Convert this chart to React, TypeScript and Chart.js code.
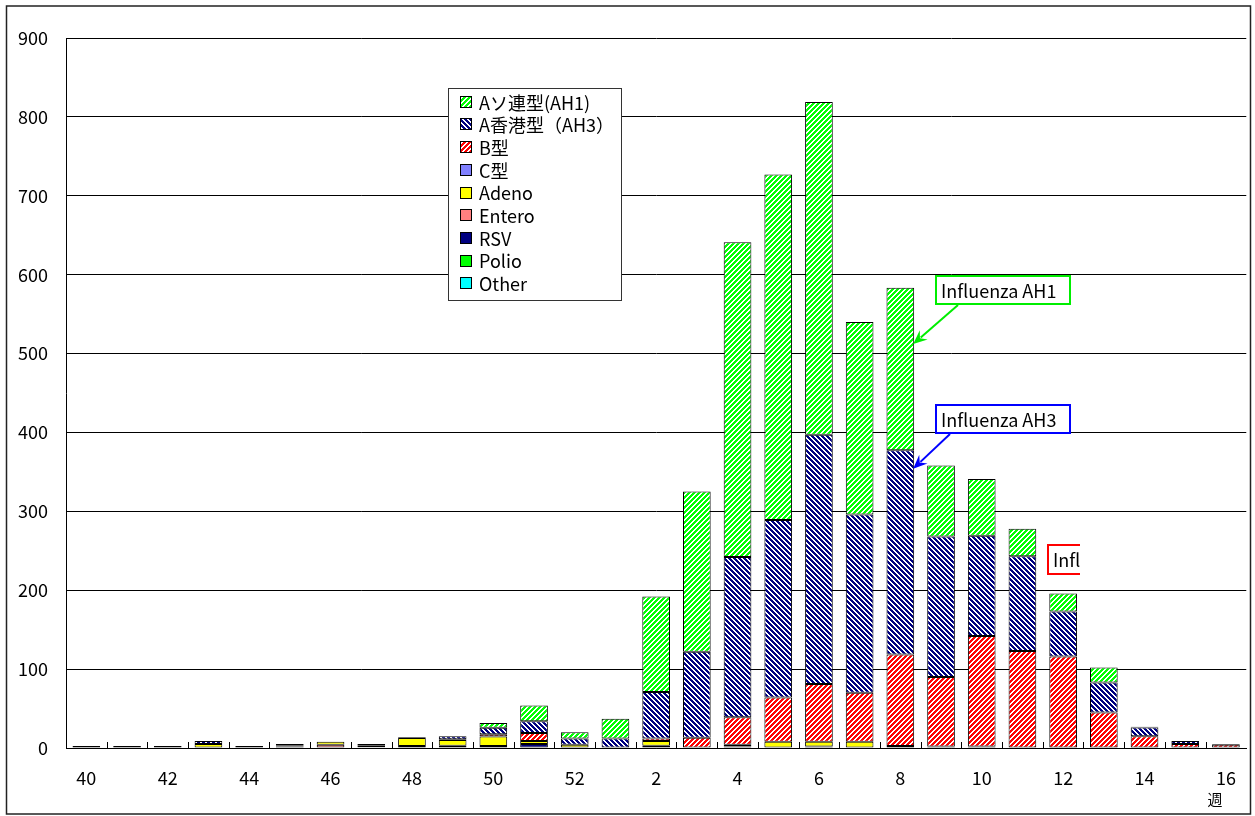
import React, { useEffect, useRef } from 'react';
import { Chart, registerables } from 'chart.js';
Chart.register(...registerables);

const weeks = ['40','41','42','43','44','45','46','47','48','49','50','51','52','1','2','3','4','5','6','7','8','9','10','11','12','13','14','15','16'];

const ah1 =    [0,0,0,0,0,2,0,0,0,0,6,20,8,25,121,203,399,438,422,244,206,90,72,35,23,19,1,0,0];
const ah3 =    [0,0,0,4,0,0,0,0,1,4,8,15,8,12,59,109,203,225,316,226,259,178,127,120,57,38,11,4,1];
const typeB =  [0,0,0,0,0,0,0,2,0,1,3,10,0,0,3,13,35,56,73,62,116,88,140,123,116,45,15,5,4];
const typeC =  [0,0,0,0,0,0,0,0,0,0,0,0,0,0,0,0,0,0,0,0,0,0,0,0,0,0,0,0,0];
const adeno =  [0,0,0,5,0,1,4,2,10,7,12,4,4,0,6,0,2,8,6,8,0,2,0,0,0,0,0,0,0];
const entero = [0,0,0,0,0,2,4,1,0,3,0,0,0,0,0,0,2,0,2,0,0,0,2,0,0,0,0,0,0];
const rsv =    [1,1,1,0,1,0,0,0,1,0,2,5,0,0,3,0,0,0,0,0,2,0,0,0,0,0,0,0,0];
const polio =  [0,0,0,0,0,0,0,0,0,0,0,0,0,0,0,0,0,0,0,0,0,0,0,0,0,0,0,0,0];
const other =  [0,0,0,0,0,0,0,0,0,0,0,0,0,0,0,0,0,0,0,0,0,0,0,0,0,0,0,0,0];

const yTicks = [0,100,200,300,400,500,600,700,800,900];

const FONT = '"Noto Sans CJK JP", "Noto Sans", sans-serif';

function makePattern(color: string, dir: string) {
  const P = 5;
  const c = document.createElement('canvas');
  c.width = P; c.height = P;
  const ctx = c.getContext('2d')!;
  ctx.fillStyle = '#ffffff';
  ctx.fillRect(0, 0, P, P);
  ctx.fillStyle = color;
  for (let y = 0; y < P; y++) {
    for (let x = 0; x < P; x++) {
      const k = dir === '/' ? (x + y) % P : (((x - y) % P) + P) % P;
      if (k < 3) ctx.fillRect(x, y, 1, 1);
    }
  }
  return ctx.createPattern(c, 'repeat')!;
}

export default function App() {
  const ref = useRef<HTMLCanvasElement>(null);
  useEffect(() => {
    document.body.style.margin = '0';
    const pGreen = makePattern('#00ff00', '/');
    const pBlue = makePattern('#000080', '\\');
    const pRed = makePattern('#ff0000', '/');

    const series = [
      { label: 'Other', data: other, fill: '#00ffff', min: 0 },
      { label: 'Polio', data: polio, fill: '#00ff00', min: 0 },
      { label: 'RSV', data: rsv, fill: '#000080', min: 2 },
      { label: 'Entero', data: entero, fill: '#ff8080', min: 0 },
      { label: 'Adeno', data: adeno, fill: '#ffff00', min: 0 },
      { label: 'C型', data: typeC, fill: '#8080ff', min: 0 },
      { label: 'B型', data: typeB, fill: pRed, min: 0 },
      { label: 'A香港型（AH3）', data: ah3, fill: pBlue, min: 0 },
      { label: 'Aソ連型(AH1)', data: ah1, fill: pGreen, min: 0 },
    ];

    const decor = {
      id: 'decor',
      beforeDraw(chart: any) {
        const ctx = chart.ctx;
        ctx.save();
        ctx.fillStyle = '#ffffff';
        ctx.fillRect(0, 0, chart.width, chart.height);
        ctx.restore();
      },
      afterDraw(chart: any) {
        const ctx = chart.ctx;
        const xs = chart.scales.x;
        const ys = chart.scales.y;
        const area = chart.chartArea;
        ctx.save();
        const n = weeks.length;
        const cw = (area.right - area.left) / n;
        ctx.strokeStyle = '#000';
        ctx.lineWidth = 1;
        for (let i = 1; i < n; i++) {
          const x = Math.round(area.left + i * cw) + 0.5;
          ctx.beginPath();
          ctx.moveTo(x, area.bottom);
          ctx.lineTo(x, area.bottom - 6);
          ctx.stroke();
        }
        ctx.strokeStyle = '#222';
        ctx.lineWidth = 1.5;
        ctx.strokeRect(6.5, 6, 1244, 808);

        ctx.fillStyle = '#000';
        ctx.font = '15px ' + FONT;
        ctx.textAlign = 'center';
        ctx.textBaseline = 'middle';
        ctx.fillText('週', xs.getPixelForValue(n - 1) - 11, 799);

        const lx = 448.5, ly = 88.5, lw = 173, lh = 212;
        ctx.fillStyle = '#fff';
        ctx.fillRect(lx, ly, lw, lh);
        ctx.strokeStyle = '#333';
        ctx.lineWidth = 1;
        ctx.strokeRect(lx, ly, lw, lh);
        const items = series.slice().reverse();
        ctx.font = '18px ' + FONT;
        ctx.textAlign = 'left';
        items.forEach((s, i) => {
          const cy = 101.7 + 22.7 * i;
          const sy = Math.round(cy - 6) + 0.5;
          ctx.fillStyle = s.fill as any;
          ctx.fillRect(460.5, sy, 11, 11);
          ctx.strokeStyle = '#000';
          ctx.strokeRect(460.5, sy, 11, 11);
          ctx.fillStyle = '#000';
          ctx.fillText(s.label, 479, cy + 1);
        });

        const barHalf = cw * 0.68 / 2;
        const w8 = weeks.indexOf('8');
        const tipX = xs.getPixelForValue(w8) + barHalf;
        const drawArrow = (x1: number, y1: number, x2: number, y2: number, color: string) => {
          const ang = Math.atan2(y2 - y1, x2 - x1);
          const L = 14, W = 6;
          const bx = x2 - L * Math.cos(ang), by = y2 - L * Math.sin(ang);
          ctx.strokeStyle = color;
          ctx.lineWidth = 2;
          ctx.beginPath();
          ctx.moveTo(x1, y1);
          ctx.lineTo(bx + 4 * Math.cos(ang), by + 4 * Math.sin(ang));
          ctx.stroke();
          ctx.fillStyle = color;
          ctx.beginPath();
          ctx.moveTo(x2, y2);
          ctx.lineTo(bx - W * Math.sin(ang), by + W * Math.cos(ang));
          ctx.lineTo(bx + 5 * Math.cos(ang), by + 5 * Math.sin(ang));
          ctx.lineTo(bx + W * Math.sin(ang), by - W * Math.cos(ang));
          ctx.closePath();
          ctx.fill();
        };
        const drawBox = (x: number, y: number, w: number, h: number, color: string, text: string) => {
          ctx.fillStyle = '#fff';
          ctx.fillRect(x, y, w, h);
          ctx.strokeStyle = color;
          ctx.lineWidth = 2;
          ctx.strokeRect(x, y, w, h);
          ctx.fillStyle = '#000';
          ctx.font = '18px ' + FONT;
          ctx.textAlign = 'left';
          ctx.textBaseline = 'middle';
          ctx.fillText(text, x + 5, y + h / 2 + 1);
        };
        drawArrow(958, 305, tipX - 1, ys.getPixelForValue(512), '#00ee00');
        drawBox(936, 276, 134, 28, '#00ee00', 'Influenza AH1');
        drawArrow(950, 434, tipX - 1, ys.getPixelForValue(354), '#0000ff');
        drawBox(936, 405, 134, 28, '#0000ff', 'Influenza AH3');
        ctx.save();
        ctx.beginPath();
        ctx.rect(0, 0, 1080, chart.height);
        ctx.clip();
        drawBox(1048, 545, 134, 29, '#ff0000', 'Influenza B');
        ctx.restore();
        ctx.restore();
      },
    };

    const chart = new Chart(ref.current!, {
      type: 'bar',
      data: {
        labels: weeks,
        datasets: series.map((s) => ({
          label: s.label,
          data: s.data.map((v) => (v === 0 ? null : v)),
          backgroundColor: s.fill as any,
          borderColor: '#000000',
          borderWidth: 1,
          borderSkipped: false,
          minBarLength: s.min,
          categoryPercentage: 1,
          barPercentage: 0.68,
        })),
      },
      options: {
        responsive: false,
        animation: false,
        events: [],
        layout: { padding: { left: 6, top: 38, right: 5, bottom: 0 } },
        plugins: { legend: { display: false }, tooltip: { enabled: false } },
        scales: {
          x: {
            stacked: true,
            afterFit: (s: any) => { s.height = 68; },
            grid: { display: false, drawTicks: false },
            border: { display: true, color: '#000', width: 1 },
            ticks: {
              autoSkip: false,
              maxRotation: 0,
              padding: 19,
              color: '#000',
              font: { family: FONT, size: 18 },
              callback: (_v: any, i: number) => (i % 2 === 0 ? weeks[i] : ''),
            },
          },
          y: {
            stacked: true,
            min: 0,
            max: 900,
            afterFit: (s: any) => { s.width = 60; },
            afterBuildTicks: (s: any) => { s.ticks = yTicks.map((v) => ({ value: v })); },
            grid: { color: '#000', lineWidth: 1, drawTicks: false },
            border: { display: true, color: '#000', width: 1 },
            ticks: {
              padding: 18,
              color: '#000',
              font: { family: FONT, size: 18 },
            },
          },
        },
      },
      plugins: [decor],
    });
    return () => chart.destroy();
  }, []);
  return (
    <div style={{ width: 1255, height: 816, position: 'relative' }}>
      <canvas ref={ref} width={1255} height={816} style={{ display: 'block' }} />
    </div>
  );
}
